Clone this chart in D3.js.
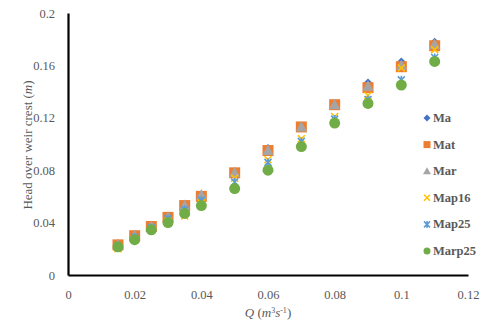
<!DOCTYPE html>
<html><head><meta charset="utf-8">
<script src="https://cdn.jsdelivr.net/npm/d3@7"></script>
<style>body{margin:0;background:#fff}svg{display:block}</style>
</head><body>
<svg id="c" width="486" height="329"></svg>
<script>
const Q = [0.015, 0.02, 0.025, 0.03, 0.035, 0.04, 0.05, 0.06, 0.07, 0.08, 0.09, 0.1, 0.11];
const Ma     = [0.024, 0.031, 0.038, 0.045, 0.054, 0.061, 0.079, 0.097, 0.114, 0.131, 0.147, 0.163, 0.178];
const Mat    = [0.023, 0.030, 0.037, 0.044, 0.053, 0.060, 0.078, 0.095, 0.113, 0.130, 0.143, 0.159, 0.175];
const Mar    = [0.023, 0.030, 0.037, 0.044, 0.053, 0.061, 0.078, 0.095, 0.113, 0.130, 0.144, 0.160, 0.176];
const Map16  = [0.020, 0.027, 0.035, 0.041, 0.045, 0.055, 0.074, 0.088, 0.104, 0.121, 0.137, 0.158, 0.172];
const Map25  = [0.022, 0.029, 0.036, 0.043, 0.050, 0.057, 0.071, 0.086, 0.102, 0.119, 0.134, 0.149, 0.166];
const Marp25 = [0.0215, 0.027, 0.0345, 0.040, 0.047, 0.053, 0.066, 0.080, 0.098, 0.116, 0.131, 0.145, 0.163];
const seriesNames = ["Ma", "Mat", "Mar", "Map16", "Map25", "Marp25"];
const xTicks = [0, 0.02, 0.04, 0.06, 0.08, 0.1, 0.12];
const yTicks = [0, 0.04, 0.08, 0.12, 0.16, 0.2];

const seriesData = [Ma, Mat, Mar, Map16, Map25, Marp25];
const colors = ["#4472C4", "#ED7D31", "#A5A5A5", "#FFC000", "#5B9BD5", "#70AD47"];

const svg = d3.select("#c");
const x = d3.scaleLinear().domain([0, 0.12]).range([68, 468]);
const y = d3.scaleLinear().domain([0, 0.2]).range([275, 13]);
const font = "'Liberation Serif', serif";

// axes
const xAxis = d3.axisBottom(x).tickValues(xTicks).tickFormat(d => d3.format("")(+d.toFixed(2))).tickSize(0).tickPadding(15);
const yAxis = d3.axisLeft(y).tickValues(yTicks).tickFormat(d => d3.format("")(+d.toFixed(2))).tickSize(0).tickPadding(13);
const gx = svg.append("g").attr("transform", "translate(0,275)").call(xAxis);
const gy = svg.append("g").attr("transform", "translate(68,0)").call(yAxis);
[gx, gy].forEach(g => {
  g.select(".domain").attr("stroke", "#000").attr("stroke-width", 2.2);
  g.selectAll("text").attr("font-family", font).attr("font-size", 12.5).attr("fill", "#595959");
});

// markers
function drawMarker(g, type, color) {
  if (type === 0) g.append("path").attr("d", "M0,-4L4,0L0,4L-4,0Z").attr("fill", color);
  else if (type === 1) g.append("rect").attr("x", -5.5).attr("y", -5.5).attr("width", 11).attr("height", 11).attr("fill", color);
  else if (type === 2) g.append("path").attr("d", "M0,-6L5.5,4.5L-5.5,4.5Z").attr("fill", color);
  else if (type === 3) g.append("path").attr("d", "M-3.5,-3.5L3.5,3.5M-3.5,3.5L3.5,-3.5").attr("stroke", color).attr("stroke-width", 1.6);
  else if (type === 4) g.append("path").attr("d", "M-3.5,-3.5L3.5,3.5M-3.5,3.5L3.5,-3.5M0,-4L0,4").attr("stroke", color).attr("stroke-width", 1.6);
  else g.append("circle").attr("r", 5.5).attr("fill", color);
}

seriesData.forEach((vals, si) => {
  const g = svg.append("g");
  vals.forEach((v, i) => {
    const m = g.append("g").attr("transform", `translate(${x(Q[i])},${y(v)})`);
    drawMarker(m, si, colors[si]);
  });
});

// legend
seriesNames.forEach((n, i) => {
  const ly = 118 + i * 26.6;
  const m = svg.append("g").attr("transform", `translate(427,${ly})`);
  if (i === 0) m.append("path").attr("d", "M0,-3.5L3.5,0L0,3.5L-3.5,0Z").attr("fill", colors[i]);
  else if (i === 1) m.append("rect").attr("x", -3.5).attr("y", -3.5).attr("width", 7).attr("height", 7).attr("fill", colors[i]);
  else if (i === 2) m.append("path").attr("d", "M0,-4L4,3L-4,3Z").attr("fill", colors[i]);
  else if (i === 3) m.append("path").attr("d", "M-3,-3L3,3M-3,3L3,-3").attr("stroke", colors[i]).attr("stroke-width", 1.5);
  else if (i === 4) m.append("path").attr("d", "M-3,-3L3,3M-3,3L3,-3M0,-3.5L0,3.5").attr("stroke", colors[i]).attr("stroke-width", 1.5);
  else m.append("circle").attr("r", 3.5).attr("fill", colors[i]);
  svg.append("text").attr("x", 433).attr("y", ly + 4).text(n)
    .attr("font-family", font).attr("font-size", 12.5).attr("font-weight", "bold").attr("fill", "#595959");
});

// axis titles
const yt = svg.append("text").attr("transform", "translate(32,145) rotate(-90)")
  .attr("text-anchor", "middle").attr("font-family", font).attr("font-size", 13).attr("fill", "#595959");
yt.append("tspan").text("Head over weir crest (");
yt.append("tspan").attr("font-style", "italic").text("m");
yt.append("tspan").text(")");

const xt = svg.append("text").attr("x", 268).attr("y", 317)
  .attr("text-anchor", "middle").attr("font-family", font).attr("font-size", 13).attr("fill", "#595959");
xt.append("tspan").attr("font-style", "italic").text("Q");
xt.append("tspan").text(" (");
xt.append("tspan").attr("font-style", "italic").text("m");
xt.append("tspan").attr("font-size", 8).attr("dy", -4).text("3");
xt.append("tspan").attr("font-style", "italic").attr("dy", 4).text("s");
xt.append("tspan").attr("font-size", 8).attr("dy", -4).text("-1");
xt.append("tspan").attr("dy", 4).text(")");
</script>
</body></html>
